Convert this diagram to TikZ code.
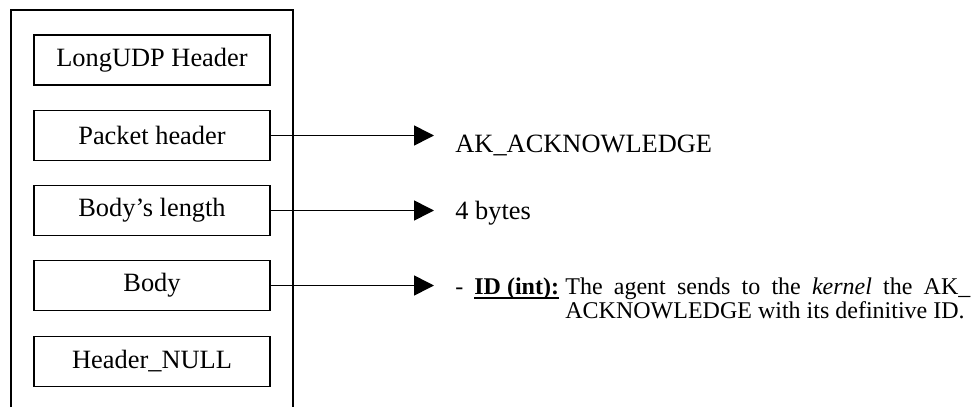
\documentclass[tikz,border=0pt]{standalone}
\usepackage{fontspec}
\setmainfont{Liberation Serif}
\usetikzlibrary{arrows.meta}
\newcommand{\ulb}[1]{\setbox0\hbox{#1}\rlap{\rule[-2.4pt]{\wd0}{0.8pt}}\box0}

\begin{document}
\begin{tikzpicture}[x=0.5pt,y=-0.5pt,
        field/.style={draw, line width=0.8pt, minimum width=118pt, minimum height=25pt, inner sep=0pt, font=\fontsize{13.2}{15}\selectfont},
        pointer/.style={line width=0.8pt, -{Triangle[length=10pt,width=10pt]}},
        value/.style={anchor=base west, inner sep=0pt, font=\fontsize{13.2}{15}\selectfont}]
        \useasboundingbox (0,0) rectangle (973,407);

        %\draw (0,0) rectangle (973,407);
        \draw[line width=0.8pt] (11,407) -- (11,10) -- (293,10) -- (293,407);

        \node[field] (udp) at (152,60) {LongUDP Header};
        \node[field] (pkt) at (152,135.5) {Packet header};
        \node[field] (len) at (152,210.5) {Body’s length};
        \node[field] (body) at (152,285.5) {Body};
        \node[field] (null) at (152,361.5) {Header\_NULL};

        \coordinate (pktTip) at (434,135.5);
        \draw[pointer] (pkt.east) -- (pktTip);
        \node[value] (ack) at (455,152) {AK\_ACKNOWLEDGE};

        \coordinate (lenTip) at (434,210.5);
        \draw[pointer] (len.east) -- (lenTip);
        \node[value] (bytes) at (455,219) {4 bytes};

        \coordinate (bodyTip) at (434,285.5);
        \draw[pointer] (body.east) -- (bodyTip);
        \node[value, font=\fontsize{12}{12}\selectfont] (dash) at (455,294) {-};
        \node[value, font=\fontsize{12}{12}\selectfont] (id) at (474,294) {\ulb{\textbf{ID (int):}}};
        \node[value, font=\fontsize{12}{12}\selectfont] (desc) at (565,294) {\parbox[t]{202.5pt}{The agent sends to the \textit{kernel} the AK\_\linebreak ACKNOWLEDGE with its definitive ID.}};
    \end{tikzpicture}
\end{document}
